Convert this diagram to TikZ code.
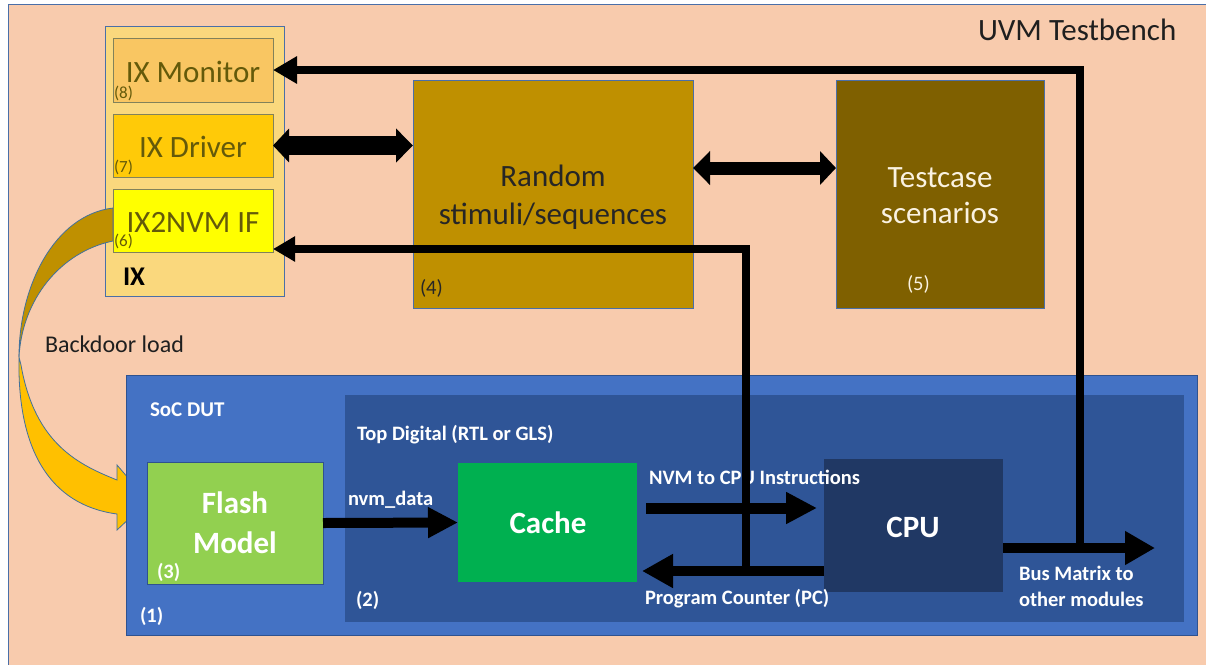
\documentclass[tikz,border=0pt]{standalone}
\usepackage{fontspec}
\setmainfont{Carlito}
\usetikzlibrary{arrows.meta}

\definecolor{peach}{HTML}{F8CBAD}
\definecolor{framec}{HTML}{4A6FA8}
\definecolor{ixgold}{RGB}{250,216,125}
\definecolor{ixmonc}{RGB}{249,198,98}
\definecolor{ixdrvc}{RGB}{255,202,8}
\definecolor{ixnvmc}{RGB}{255,255,0}
\definecolor{subedge}{RGB}{130,130,90}
\definecolor{olivetxt}{RGB}{100,90,10}
\definecolor{randc}{HTML}{BF9000}
\definecolor{testc}{HTML}{7F6000}
\definecolor{cream}{RGB}{250,242,225}
\definecolor{socc}{HTML}{4472C4}
\definecolor{socedge}{HTML}{2F528F}
\definecolor{topdc}{HTML}{2F5597}
\definecolor{cpuc}{HTML}{203864}
\definecolor{cachec}{HTML}{00B050}
\definecolor{flashc}{HTML}{92D050}
\definecolor{loaddark}{HTML}{BF9000}
\definecolor{loadlight}{HTML}{FFC000}
\definecolor{loadedge}{HTML}{41719C}

\newcommand\fsbig{\fontsize{31}{38}\selectfont}
\newcommand\fsmid{\fontsize{20.5}{25}\selectfont}
\newcommand\fssmall{\fontsize{17}{20}\selectfont}

\tikzset{
  blk/.style={rectangle, inner sep=0pt, outer sep=0pt, anchor=north west, line width=1pt},
  lbl/.style={inner sep=0pt, outer sep=0pt, anchor=base west},
  ctr/.style={inner sep=0pt, outer sep=0pt, anchor=base},
  bar/.style={line width=#1, draw=black},
}

\begin{document}
\begin{tikzpicture}[x=1pt,y=-1pt]
\useasboundingbox (0,0) rectangle (1206,664);
\clip (0,0) rectangle (1206,664);

% testbench frame
\fill[white] (0,0) rectangle (1206,664);
\draw[fill=peach, draw=framec, line width=1pt] (8,4) rectangle (1214,672);
\node[lbl, text=black!88, font=\fsbig] (uvm) at (978,40) {UVM Testbench};

% IX agent
\node[blk, fill=ixgold, draw=framec, minimum width=179pt, minimum height=270pt] (ix) at (105,26) {};
\node[lbl, font=\bfseries\fontsize{27}{30}\selectfont] (ixlbl) at (123,285) {IX};

% backdoor load arrow
\fill[loaddark, draw=loadedge, line width=0.8pt]
  (113,208) .. controls (55,215) and (19,285) .. (19,357)
  .. controls (22,300) and (60,252) .. (113,241) -- cycle;
\fill[loadlight, draw=loadedge, line width=0.8pt]
  (19,357) .. controls (17,450) and (50,505) .. (117,514)
  -- (117,530) -- (148,501) -- (117,465) -- (117,480)
  .. controls (80,465) and (35,445) .. (21,365) -- cycle;
\node[lbl, text=black!88, font=\fontsize{24}{28}\selectfont] (bdl) at (45,352) {Backdoor load};

\node[blk, fill=ixmonc, draw=subedge, minimum width=160pt, minimum height=64pt] (ixmon) at (113,38) {};
\node[blk, fill=ixdrvc, draw=subedge, minimum width=160pt, minimum height=63pt] (ixdrv) at (113,114) {};
\node[blk, fill=ixnvmc, draw=subedge, minimum width=160pt, minimum height=63pt] (ixnvm) at (113,189) {};
\node[ctr, text=olivetxt, font=\fsbig] (ixmont) at (193,82) {IX Monitor};
\node[ctr, text=olivetxt, font=\fsbig] (ixdrvt) at (193,157) {IX Driver};
\node[ctr, text=olivetxt, font=\fsbig] (ixnvmt) at (193,232) {IX2NVM IF};
\node[lbl, text=olivetxt, font=\fssmall] (n8) at (114,98) {(8)};
\node[lbl, text=olivetxt, font=\fssmall] (n7) at (114,172) {(7)};
\node[lbl, text=olivetxt, font=\fssmall] (n6) at (114,246) {(6)};

% sequences and tests
\node[blk, fill=randc, draw=framec, minimum width=280pt, minimum height=228pt] (rand) at (413,80) {};
\node[ctr, text=black!85, font=\fsbig] (randt1) at (553,186) {Random};
\node[ctr, text=black!85, font=\fsbig] (randt2) at (553,224) {stimuli/sequences};
\node[lbl, text=black!85, font=\fsmid] (n4) at (420,294) {(4)};

\node[blk, fill=testc, draw=framec, minimum width=208pt, minimum height=228pt] (tcase) at (836,80) {};
\node[ctr, text=cream, font=\fsbig] (tct1) at (940,187) {Testcase};
\node[ctr, text=cream, font=\fsbig] (tct2) at (940,223) {scenarios};
\node[lbl, text=cream, font=\fsmid] (n5) at (907,290) {(5)};

% design under test
\node[blk, fill=socc, draw=socedge, minimum width=1071pt, minimum height=260pt] (soc) at (126,375) {};
\node[blk, fill=topdc, minimum width=839pt, minimum height=227pt] (topd) at (345,395) {};
\node[lbl, text=white, font=\bfseries\fontsize{21}{25}\selectfont] (soct) at (150,416) {SoC DUT};
\node[lbl, text=white, font=\bfseries\fsmid] (topdt) at (357,440) {Top Digital (RTL or GLS)};
\node[lbl, text=white, font=\bfseries\fsmid] (n1) at (140,622) {(1)};
\node[lbl, text=white, font=\bfseries\fsmid] (n2) at (356,606) {(2)};

\node[blk, fill=flashc, draw=socedge, minimum width=176pt, minimum height=122pt] (flash) at (147,462) {};
\node[ctr, text=white, font=\bfseries\fsbig] (flt1) at (235,513) {Flash};
\node[ctr, text=white, font=\bfseries\fsbig] (flt2) at (235,553) {Model};
\node[lbl, text=white, font=\bfseries\fsmid] (n3) at (157,578) {(3)};

\node[blk, fill=cachec, minimum width=179pt, minimum height=119pt] (cache) at (458,463) {};
\node[ctr, text=white, font=\bfseries\fsbig] (cacht) at (548,533) {Cache};

\node[blk, fill=cpuc, minimum width=179pt, minimum height=133pt] (cpu) at (824,459) {};
\node[ctr, text=white, font=\bfseries\fsbig] (cput) at (913,537) {CPU};

\node[lbl, text=white, font=\bfseries\fsmid] (nvmd) at (348,505) {nvm\_data};
\node[lbl, text=white, font=\bfseries\fsmid] (instr) at (649,484) {NVM to CPU Instructions};
\node[lbl, text=white, font=\bfseries\fsmid] (pct) at (645,604) {Program Counter (PC)};
\node[lbl, text=white, font=\bfseries\fsmid] (bus1) at (1019,580) {Bus Matrix to};
\node[lbl, text=white, font=\bfseries\fsmid] (bus2) at (1019,606) {other modules};

% junctions on the buses
\coordinate (pcj) at (746,571);
\coordinate (busj) at (1080,548);
\coordinate (busend) at (1155,548);
\coordinate (nvmin) at ([yshift=3pt]ixnvm.south east);

% connectors
\draw[bar=19pt, {Triangle[width=33pt,length=16pt]}-{Triangle[width=33pt,length=17pt]}]
  (ixdrv.east) -- (ixdrv.east -| rand.west);
\draw[bar=13pt, {Triangle[width=33pt,length=17pt]}-{Triangle[width=33pt,length=16pt]}]
  ([yshift=26pt]rand.east) -- ([yshift=26pt]tcase.west);
\draw[bar=10pt, -{Triangle[width=29pt,length=30pt]}] (flash.east) -- (cache.west);
\draw[bar=11pt, -{Triangle[width=30pt,length=31pt]}]
  ([shift={(9pt,14.5pt)}]cache.east) -- ([shift={(-7pt,17.5pt)}]cpu.west);
\draw[bar=10pt, -{Triangle[width=32pt,length=31pt]}]
  ([yshift=-45.5pt]cpu.west) -- ([shift={(5pt,-48.5pt)}]cache.east);
\draw[bar=10pt, -{Triangle[width=32pt,length=30pt]}]
  ([yshift=-22.5pt]cpu.east) -- (busend);
\draw[bar=8pt, -{Triangle[width=24pt,length=22pt]}] (pcj) |- (nvmin);
\draw[bar=8pt, -{Triangle[width=26pt,length=24pt]}] (busj) |- (ixmon.east);
\end{tikzpicture}
\end{document}
